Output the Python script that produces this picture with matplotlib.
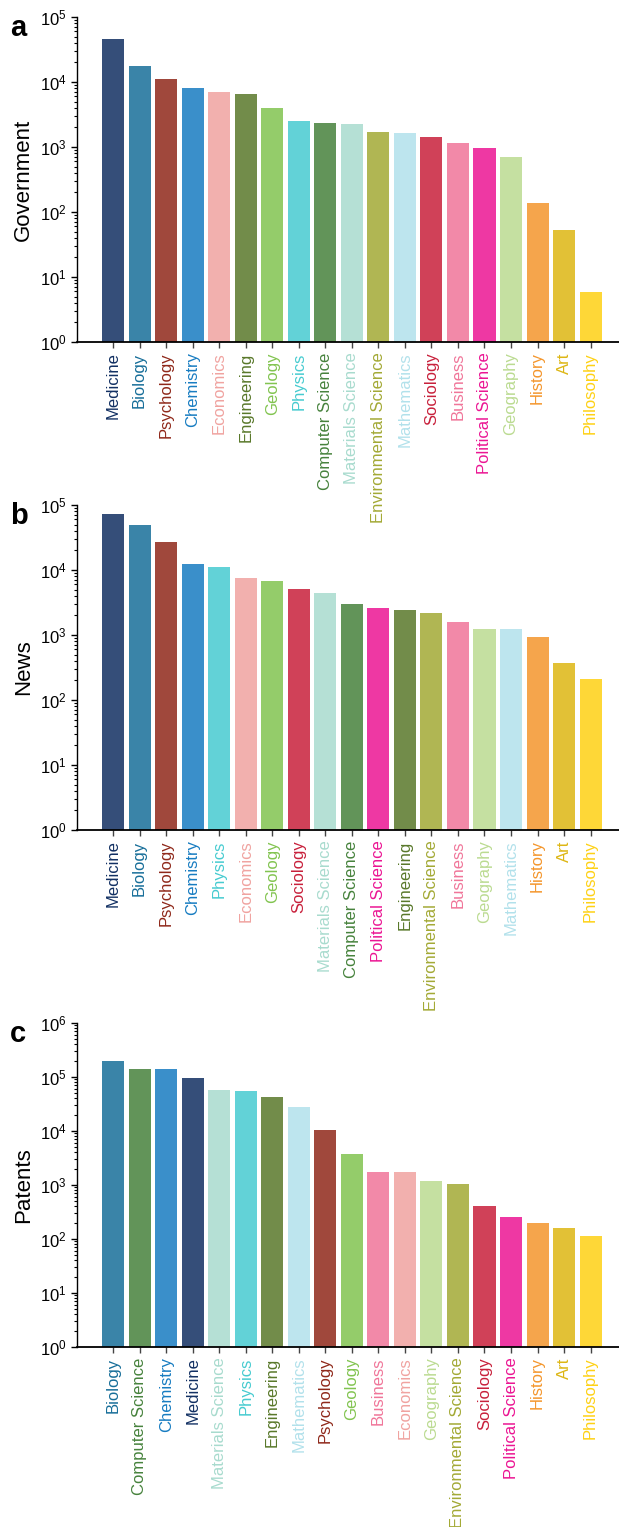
import matplotlib
matplotlib.use("Agg")
import matplotlib.pyplot as plt

# ============================================================
# DATA
# ============================================================

gov_fields = ["Medicine", "Biology", "Psychology", "Chemistry", "Economics",
              "Engineering", "Geology", "Physics", "Computer Science",
              "Materials Science", "Environmental Science", "Mathematics",
              "Sociology", "Business", "Political Science", "Geography",
              "History", "Art", "Philosophy"]
gov_counts = [46000, 17600, 11100, 8100, 7000, 6500, 4000, 2500, 2350,
              2260, 1700, 1640, 1425, 1150, 965, 700, 137, 52, 5.9]

news_fields = ["Medicine", "Biology", "Psychology", "Chemistry", "Physics",
               "Economics", "Geology", "Sociology", "Materials Science",
               "Computer Science", "Political Science", "Engineering",
               "Environmental Science", "Business", "Geography", "Mathematics",
               "History", "Art", "Philosophy"]
news_counts = [72800, 49000, 27000, 12400, 11100, 7500, 6800, 5100, 4400,
               3000, 2600, 2400, 2180, 1580, 1240, 1240, 930, 370, 210]

patent_fields = ["Biology", "Computer Science", "Chemistry", "Medicine",
                 "Materials Science", "Physics", "Engineering", "Mathematics",
                 "Psychology", "Geology", "Business", "Economics", "Geography",
                 "Environmental Science", "Sociology", "Political Science",
                 "History", "Art", "Philosophy"]
patent_counts = [198000, 141000, 140000, 96000, 57000, 55000, 42700, 27800,
                 10400, 3750, 1750, 1750, 1190, 1040, 410, 257, 200, 160, 114]

FIELD_COLORS = {
    "Medicine": "#112F62",
    "Biology": "#176E99",
    "Psychology": "#8F281A",
    "Chemistry": "#177CC1",
    "Economics": "#F0A3A0",
    "Engineering": "#59782A",
    "Geology": "#82C450",
    "Physics": "#46CBD0",
    "Computer Science": "#46823C",
    "Materials Science": "#A8DBCE",
    "Environmental Science": "#A3A935",
    "Mathematics": "#B2E1EB",
    "Sociology": "#C8203B",
    "Business": "#F07599",
    "Political Science": "#EB1593",
    "Geography": "#BBDB91",
    "History": "#F4962C",
    "Art": "#DDB613",
    "Philosophy": "#FED114",
}

plt.rcParams["font.family"] = ["Liberation Sans", "DejaVu Sans"]
plt.rcParams["mathtext.fontset"] = "custom"
plt.rcParams["mathtext.rm"] = "Liberation Sans"
plt.rcParams["mathtext.it"] = "Liberation Sans:italic"


def draw_panel(ax, fields, counts, ylabel, ymax):
    x = list(range(len(fields)))
    ax.set_facecolor("none")  # long tick labels may run into the next panel
    ax.bar(x, counts, width=0.83, color=[FIELD_COLORS[f] for f in fields],
           alpha=0.85)
    ax.set_yscale("log")
    ax.set_ylim(1, ymax)
    ax.set_xlim(-1.36, len(fields) - 1 + 1.07)
    ax.set_xticks(x)
    ax.set_xticklabels(fields, rotation=90, fontsize=12)
    for lbl, f in zip(ax.get_xticklabels(), fields):
        lbl.set_color(FIELD_COLORS[f])
    ax.set_ylabel(ylabel, fontsize=16)
    ax.tick_params(axis="y", labelsize=12, length=4, width=1)
    ax.tick_params(axis="y", which="minor", length=2, width=0.8)
    ax.tick_params(axis="x", length=4, width=1, color="#444444")
    ax.spines["top"].set_visible(False)
    ax.spines["right"].set_visible(False)
    ax.spines["left"].set_linewidth(1.0)
    ax.spines["bottom"].set_linewidth(1.3)


fig = plt.figure(figsize=(6.19, 15.27), dpi=100)
left, width = 77 / 619, 542 / 619
ax_a = fig.add_axes([left, 1 - 342 / 1527, width, 325 / 1527])
ax_b = fig.add_axes([left, 1 - 830 / 1527, width, 325 / 1527])
ax_c = fig.add_axes([left, 1 - 1347 / 1527, width, 324 / 1527])
ax_a.set_zorder(3)
ax_b.set_zorder(2)

draw_panel(ax_a, gov_fields, gov_counts, "Government", 1e5)
draw_panel(ax_b, news_fields, news_counts, "News", 1e5)
draw_panel(ax_c, patent_fields, patent_counts, "Patents", 1e6)

for letter, ypix in [("a", 36), ("b", 524), ("c", 1042)]:
    fig.text(10 / 619, 1 - ypix / 1527, letter, fontsize=21,
             fontweight="bold", ha="left", va="baseline")

fig.savefig("out.png", dpi=100)
